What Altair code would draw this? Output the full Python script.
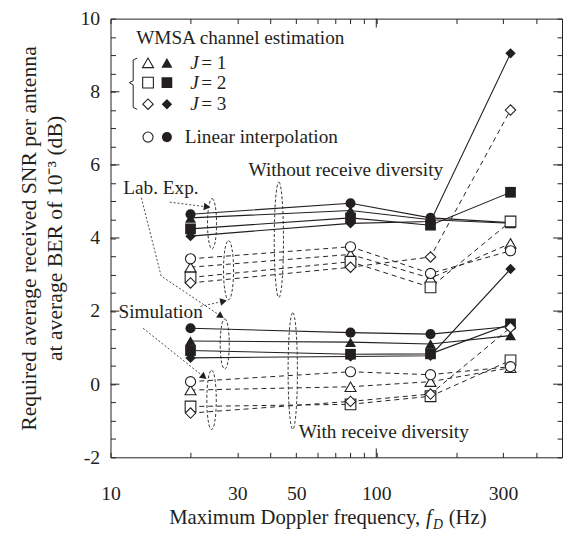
import altair as alt
import pandas as pd

FONT = "Liberation Serif"
INK = "#231f20"

# ---------------- data ----------------
freq_hz = [20, 80, 160, 320]
estimators = ["J = 1", "J = 2", "J = 3", "Linear"]

# Lab. Exp. (filled markers, solid lines), without receive diversity
lab_wo = {"J = 1": [4.55, 4.75, 4.50, 4.40],
          "J = 2": [4.25, 4.55, 4.35, 5.25],
          "J = 3": [4.05, 4.40, 4.45, 9.05],
          "Linear": [4.65, 4.95, 4.55, 4.42]}
# Simulation (open markers, dashed lines), without receive diversity
sim_wo = {"J = 1": [3.20, 3.55, 2.90, 3.85],
          "J = 2": [2.92, 3.35, 2.65, 4.45],
          "J = 3": [2.77, 3.20, 3.48, 7.50],
          "Linear": [3.43, 3.76, 3.03, 3.65]}
# Lab. Exp., with receive diversity
lab_w = {"J = 1": [1.18, 1.15, 1.10, 1.33],
         "J = 2": [0.92, 0.82, 0.83, 1.65],
         "J = 3": [0.72, 0.76, 0.78, 3.15],
         "Linear": [1.53, 1.41, 1.37, 1.58]}
# Simulation, with receive diversity
sim_w = {"J = 1": [-0.16, -0.07, 0.07, 0.45],
         "J = 2": [-0.61, -0.55, -0.33, 0.65],
         "J = 3": [-0.79, -0.47, -0.27, 1.55],
         "Linear": [0.07, 0.34, 0.26, 0.48]}

x_ticks = [10, 20, 30, 40, 50, 60, 70, 80, 90, 100, 200, 300, 400]
x_labels = [10, 30, 50, 100, 300]
x_major = [100]
y_ticks = [-2, -1.5, -1, -0.5, 0, 0.5, 1, 1.5, 2, 2.5, 3, 3.5, 4, 4.5, 5, 5.5,
           6, 6.5, 7, 7.5, 8, 8.5, 9, 9.5, 10]
y_major = [0, 2, 4, 6, 8]

# legend block (in data units)
legend_est = ["J = 1", "J = 2", "J = 3", "Linear"]
legend_v = [8.79, 8.25, 7.66, 6.76]
legend_open_f = 13.84
legend_fill_f = 16.3
legend_j_text = ["= 1", "= 2", "= 3"]
bracket_f = [12.59, 12.17, 12.17, 11.76, 12.17, 12.17, 12.59]
bracket_v = [8.92, 8.87, 8.30, 8.25, 8.19, 7.57, 7.52]

# annotation texts
note_text = ["WMSA channel estimation", "Lab. Exp.", "Simulation",
             "Without receive diversity", "With receive diversity"]
note_f = [12.49, 11.17, 10.71, 33.06, 51.1]
note_v = [9.46, 5.36, 1.96, 5.87, -1.30]

# dotted leader lines
arrow_id = [0, 0, 1, 1, 1, 2, 2, 3, 3]
arrow_f = [16.70, 23.10, 13.06, 15.50, 26.03, 21.81, 26.63, 13.26, 22.46]
arrow_v = [4.98, 4.85, 5.10, 2.96, 1.86, 2.13, 2.27, 1.53, 0.20]
tip_f = [23.10, 26.03, 26.63, 22.46]
tip_v = [4.85, 1.86, 2.27, 0.20]
tip_angle = [97.5, 123.8, 77.4, 128.5]

# dashed ellipses: centres (data units)
ell_f = [24.1, 27.8, 26.9, 24.0, 43.0, 48.5]
ell_v = [4.39, 3.12, 1.10, -0.43, 3.95, 0.36]

# ---------------- build tables ----------------
def to_rows(d, kind, div):
    out = []
    for est, vals in d.items():
        for f, v in zip(freq_hz, vals):
            out.append({"f": f, "v": v, "est": est, "kind": kind,
                        "series": f"{kind}-{div}-{est}"})
    return out

df = pd.DataFrame(to_rows(lab_wo, "Lab", "wo") + to_rows(sim_wo, "Sim", "wo")
                  + to_rows(lab_w, "Lab", "w") + to_rows(sim_w, "Sim", "w"))
lab = df[df.kind == "Lab"]
sim = df[df.kind == "Sim"]

W, H = 458, 445
xs = alt.Scale(type="log", domain=[10, 500])
ys = alt.Scale(domain=[-2, 10], nice=False, zero=False)
shape_scale = alt.Scale(domain=estimators,
                        range=["triangle-up", "square", "diamond", "circle"])
size_scale = alt.Scale(domain=estimators, range=[125, 105, 140, 100])

common = dict(domainColor=INK, tickColor=INK, domainWidth=1, tickWidth=1,
              grid=False, labelFont=FONT, labelFontSize=20, labelColor=INK)
tick_in = alt.ExprRef(expr="-5")

x_bottom = alt.Axis(orient="bottom", values=x_ticks, tickSize=tick_in,
                    labelExpr="indexof(%s, datum.value) >= 0 ? toString(datum.value) : ''" % x_labels,
                    labelPadding=32, labelFlush=False, labelOverlap=False,
                    title=None, **common)
y_left = alt.Axis(orient="left", values=y_ticks, tickSize=tick_in,
                  labelExpr="datum.value % 2 == 0 ? toString(datum.value) : ''",
                  labelPadding=16, labelOverlap=False,
                  title=["Required average received SNR per antenna",
                         "at average BER of 10⁻³ (dB)"],
                  titleFont=FONT, titleFontSize=22, titleFontWeight="normal",
                  titleColor=INK, titlePadding=14, titleLineHeight=26, **common)
x_top = alt.Axis(orient="top", values=x_ticks, tickSize=tick_in, labels=False,
                 title=None, **common)
y_right = alt.Axis(orient="right", values=y_ticks, tickSize=tick_in, labels=False,
                   title=None, **common)


def X(field="f", axis=None):
    return alt.X(f"{field}:Q", scale=xs, axis=axis)


def Y(field="v", axis=None):
    return alt.Y(f"{field}:Q", scale=ys, axis=axis)


frame = alt.Chart(lab).mark_point(opacity=0).encode(x=X(axis=x_top), y=Y(axis=y_right))

# longer (major) ticks
xmaj_df = pd.DataFrame({"f": x_major})
ymaj_df = pd.DataFrame({"v": y_major})
xmaj_b = alt.Chart(xmaj_df).mark_rule(color=INK, strokeWidth=1).encode(
    x=X(), y=alt.value(H), y2=alt.value(H - 9))
xmaj_t = alt.Chart(xmaj_df).mark_rule(color=INK, strokeWidth=1).encode(
    x=X(), y=alt.value(0), y2=alt.value(9))
ymaj_l = alt.Chart(ymaj_df).mark_rule(color=INK, strokeWidth=1).encode(
    y=Y(), x=alt.value(0), x2=alt.value(9))
ymaj_r = alt.Chart(ymaj_df).mark_rule(color=INK, strokeWidth=1).encode(
    y=Y(), x=alt.value(W), x2=alt.value(W - 9))

sim_lines = alt.Chart(sim).mark_line(color=INK, strokeWidth=1, strokeDash=[5, 4]).encode(
    x=X(axis=x_bottom), y=Y(axis=y_left), detail="series:N")
lab_lines = alt.Chart(lab).mark_line(color=INK, strokeWidth=1.1).encode(
    x=X(), y=Y(), detail="series:N")

lab_pts = alt.Chart(lab).mark_point(filled=True, color=INK, opacity=1).encode(
    x=X(), y=Y(),
    shape=alt.Shape("est:N", scale=shape_scale, legend=None),
    size=alt.Size("est:N", scale=size_scale, legend=None))
sim_pts = alt.Chart(sim).mark_point(filled=True, fill="white", stroke=INK,
                                    strokeWidth=1.1, opacity=1).encode(
    x=X(), y=Y(),
    shape=alt.Shape("est:N", scale=shape_scale, legend=None),
    size=alt.Size("est:N", scale=size_scale, legend=None))

# legend
leg_df = pd.DataFrame({"est": legend_est, "v": legend_v,
                       "fo": [legend_open_f] * 4, "ff": [legend_fill_f] * 4})
leg_open = alt.Chart(leg_df).mark_point(filled=True, fill="white", stroke=INK,
                                        strokeWidth=1.1, opacity=1).encode(
    x=X("fo"), y=Y(),
    shape=alt.Shape("est:N", scale=shape_scale, legend=None),
    size=alt.Size("est:N", scale=size_scale, legend=None))
leg_fill = alt.Chart(leg_df).mark_point(filled=True, color=INK, opacity=1).encode(
    x=X("ff"), y=Y(),
    shape=alt.Shape("est:N", scale=shape_scale, legend=None),
    size=alt.Size("est:N", scale=size_scale, legend=None))
j_df = pd.DataFrame({"f": [19.97] * 3, "f2": [21.94] * 3, "v": legend_v[:3],
                     "t": legend_j_text})
j_italic = alt.Chart(j_df).mark_text(text="J", align="left", baseline="middle",
                                     font=FONT, fontSize=19.5, fontStyle="italic",
                                     color=INK).encode(x=X(), y=Y())
j_rest = alt.Chart(j_df).mark_text(align="left", baseline="middle", font=FONT,
                                   fontSize=19.5, color=INK).encode(x=X("f2"), y=Y(), text="t:N")
lin_df = pd.DataFrame({"f": [19.02], "v": [legend_v[3]], "t": ["Linear interpolation"]})
lin_txt = alt.Chart(lin_df).mark_text(align="left", baseline="middle", font=FONT,
                                      fontSize=19.5, color=INK).encode(x=X(), y=Y(), text="t:N")
br_df = pd.DataFrame({"f": bracket_f, "v": bracket_v, "i": list(range(len(bracket_f)))})
bracket = alt.Chart(br_df).mark_line(color=INK, strokeWidth=1).encode(
    x=X(), y=Y(), order="i:Q")

# annotations
note_df = pd.DataFrame({"f": note_f, "v": note_v, "t": note_text})
notes = alt.Chart(note_df).mark_text(align="left", baseline="middle", font=FONT,
                                     fontSize=19.5, color=INK).encode(x=X(), y=Y(), text="t:N")
arr_df = pd.DataFrame({"id": arrow_id, "f": arrow_f, "v": arrow_v,
                       "i": list(range(len(arrow_f)))})
arrows = alt.Chart(arr_df).mark_line(color="#333333", strokeWidth=0.9,
                                     strokeDash=[2, 2]).encode(
    x=X(), y=Y(), detail="id:N", order="i:Q")
tip_df = pd.DataFrame({"f": tip_f, "v": tip_v, "a": tip_angle})
tips = alt.Chart(tip_df).mark_point(shape="triangle-up", filled=True, color=INK,
                                    size=60, opacity=1).encode(
    x=X(), y=Y(), angle=alt.Angle("a:Q", scale=None))


def ellipse(i, h, rx):
    path = f"M0,-1A{rx},1,0,1,1,0,1A{rx},1,0,1,1,0,-1Z"
    d = pd.DataFrame({"f": [ell_f[i]], "v": [ell_v[i]]})
    return alt.Chart(d).mark_point(shape=path, size=h * h, filled=False, stroke=INK,
                                   strokeWidth=0.9, strokeDash=[3, 2],
                                   opacity=1).encode(x=X(), y=Y())


ellipses = [ellipse(0, 51, 0.18), ellipse(1, 60, 0.17), ellipse(2, 51, 0.18),
            ellipse(3, 60, 0.16), ellipse(4, 117, 0.08), ellipse(5, 118, 0.08)]

# x-axis title made of pieces (italic f with subscript D)
one = pd.DataFrame({"k": [0]})
xt_main = alt.Chart(one).mark_text(text="Maximum Doppler frequency,", align="right",
                                   baseline="alphabetic", font=FONT, fontSize=21,
                                   color=INK).encode(x=alt.value(314), y=alt.value(513))
xt_f = alt.Chart(one).mark_text(text="f", align="left", baseline="alphabetic",
                                font=FONT, fontSize=21, fontStyle="italic",
                                color=INK).encode(x=alt.value(320), y=alt.value(513))
xt_d = alt.Chart(one).mark_text(text="D", align="left", baseline="alphabetic",
                                font=FONT, fontSize=14, fontStyle="italic",
                                color=INK).encode(x=alt.value(327), y=alt.value(518))
xt_hz = alt.Chart(one).mark_text(text="(Hz)", align="left", baseline="alphabetic",
                                 font=FONT, fontSize=21, color=INK).encode(
    x=alt.value(343), y=alt.value(513))

chart = alt.layer(
    frame, xmaj_b, xmaj_t, ymaj_l, ymaj_r,
    sim_lines, lab_lines, arrows, bracket, *ellipses, tips,
    lab_pts, sim_pts, leg_fill, leg_open, j_italic, j_rest, lin_txt, notes,
    xt_main, xt_f, xt_d, xt_hz,
).resolve_axis(x="independent", y="independent").properties(
    width=W, height=H,
    padding={"left": 104, "top": 7, "right": 1, "bottom": 74},
    autosize=alt.AutoSizeParams(type="none"),
    background="white",
).configure_view(stroke=None)

chart.save("out.html", embed_options={"renderer": "svg", "actions": False})
